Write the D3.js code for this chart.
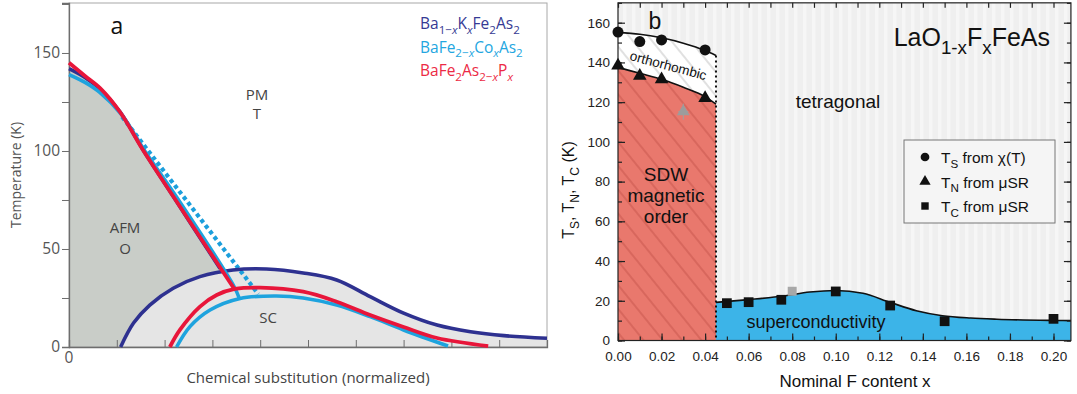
<!DOCTYPE html>
<html>
<head>
<meta charset="utf-8">
<script src="https://cdn.jsdelivr.net/npm/d3@7"></script>
<style>
  html, body { margin: 0; padding: 0; background: #fff; }
  svg { display: block; }
</style>
</head>
<body>
<svg id="fig" width="1077" height="394"></svg>
<script>
// ---------- Panel a: generic 122 phase diagram (normalized substitution) ----------
const aTicksX = [0, 0.1, 0.2, 0.3, 0.4, 0.5, 0.6, 0.7, 0.8, 0.9, 1.0];
const aTicksY = [0, 25, 50, 75, 100, 125, 150, 175];
const aLabelsY = [0, 50, 100, 150];

// AFM / structural transition lines [x, T(K)]
const afmK  = [[0, 142], [0.0335, 137.5], [0.065, 131.6], [0.1067, 120], [0.1548, 100.6], [0.2176, 77], [0.316, 40]];
const afmCo = [[0, 139], [0.0335, 135], [0.065, 129.8], [0.11, 118.6], [0.16, 99.5], [0.225, 76.5], [0.345, 31], [0.356, 25]];
const afmP  = [[0, 145], [0.0335, 138.3], [0.065, 132.1], [0.1067, 119.9], [0.1548, 100.5], [0.2176, 77], [0.3473, 29.1]];
const afmCoDotted = [[0.111, 117.5], [0.396, 27]];

// superconducting domes [x, Tc(K)]
const domeK  = [[0.108, 0], [0.135, 12.2], [0.169, 21.4], [0.218, 30], [0.274, 35.9], [0.343, 39.3],
                [0.413, 39.8], [0.49, 37.8], [0.56, 34.2], [0.63, 25.7], [0.70, 17.3], [0.77, 11.2],
                [0.84, 7.8], [0.91, 5.8], [1.0, 4.5]];
const domeCo = [[0.225, 0], [0.253, 10.4], [0.295, 18.9], [0.358, 24.8], [0.434, 26], [0.49, 25],
                [0.56, 21.4], [0.63, 15.5], [0.70, 8.7], [0.793, 0.5]];
const domeP  = [[0.211, 0], [0.232, 8.7], [0.274, 20.6], [0.309, 26.5], [0.347, 29.6], [0.40, 30.3],
                [0.49, 28.2], [0.56, 23.1], [0.63, 16.3], [0.70, 10.2], [0.77, 4.6], [0.877, 0.5]];

const aLegend = [
  { color: "#363a94", parts: [["Ba"], ["1−", "sub"], ["x", "subi"], ["K"], ["x", "subi"], ["Fe"], ["2", "sub"], ["As"], ["2", "sub"]] },
  { color: "#23a6df", parts: [["BaFe"], ["2−", "sub"], ["x", "subi"], ["Co"], ["x", "subi"], ["As"], ["2", "sub"]] },
  { color: "#ec2a45", parts: [["BaFe"], ["2", "sub"], ["As"], ["2−", "sub"], ["x", "subi"], ["P"], ["x", "subi"]] }
];

// ---------- Panel b: LaO1-xFxFeAs ----------
const bTicksXMajor = [0, 0.02, 0.04, 0.06, 0.08, 0.10, 0.12, 0.14, 0.16, 0.18, 0.20];
const bTicksYMajor = [0, 20, 40, 60, 80, 100, 120, 140, 160];

const tsPoints = [[0, 155.3], [0.01, 150.5], [0.02, 151.3], [0.04, 146.3]];
const tnPoints = [[0, 138.4], [0.01, 133.2], [0.02, 131.5], [0.04, 122]];
const tcPoints = [[0.05, 18.8], [0.06, 19.3], [0.075, 20.5], [0.10, 24.7], [0.125, 17.6], [0.15, 9.7], [0.20, 10.9]];
const tnGray = [[0.03, 115.2]];
const tcGray = [[0.08, 24.8]];

const tsLine = [[0, 155], [0.01, 154.2], [0.02, 152.4], [0.03, 149.7], [0.04, 146], [0.045, 143.5]];
const tnLine = [[0, 137.5], [0.01, 134.5], [0.02, 131.5], [0.03, 127.5], [0.04, 122.8], [0.045, 119]];
const tcLine = [[0.045, 19.2], [0.06, 20.6], [0.076, 22.4], [0.088, 24.4], [0.10, 25.2], [0.1125, 23.8],
                [0.125, 19.2], [0.137, 15], [0.149, 12.5], [0.162, 11.3], [0.174, 10.7], [0.2, 10.1], [0.208, 10]];
const sdwEdge = 0.045;

const svg = d3.select("#fig");
const defs = svg.append("defs");

function richText(sel, parts, size) {
  parts.forEach(([t, kind], i) => {
    const prev = i > 0 ? parts[i - 1][1] : undefined;
    const isSub = kind === "sub" || kind === "subi";
    const prevSub = prev === "sub" || prev === "subi";
    const ts = sel.append("tspan").text(t);
    if (isSub && !prevSub) ts.attr("dy", size * 0.3);
    if (!isSub && prevSub) ts.attr("dy", -size * 0.3);
    if (isSub) ts.attr("font-size", size * 0.75);
    if (kind === "subi") ts.attr("font-style", "italic");
  });
}

// ======================= PANEL A =======================
const xA = d3.scaleLinear().domain([0, 1]).range([69, 547]);
const yA = d3.scaleLinear().domain([0, 175.5]).range([347, 3]);
const gA = svg.append("g");
const fontA = "'Open Sans', 'Noto Sans', sans-serif";

// AFM (orthorhombic) region under the transition line
gA.append("path")
  .datum(afmK)
  .attr("d", d3.area().x(d => xA(d[0])).y0(yA(0)).y1(d => yA(d[1])).curve(d3.curveCatmullRom))
  .attr("fill", "#c9cdc8");
// superconducting region under the K dome
gA.append("path")
  .datum(domeK)
  .attr("d", d3.area().x(d => xA(d[0])).y0(yA(0)).y1(d => yA(d[1])).curve(d3.curveCatmullRom))
  .attr("fill", "#e5e5e5");

// frame
gA.append("rect").attr("x", xA(0)).attr("y", yA(175.5)).attr("width", xA(1) - xA(0)).attr("height", yA(0) - yA(175.5))
  .attr("fill", "none").attr("stroke", "#a8a8a8").attr("stroke-width", 1);

// axes
const axALeft = gA.append("g").attr("transform", `translate(${xA(0)},0)`)
  .call(d3.axisLeft(yA).tickValues(aTicksY).tickSize(7).tickFormat(d => aLabelsY.includes(d) ? d : ""));
const axABottom = gA.append("g").attr("transform", `translate(0,${yA(0)})`)
  .call(d3.axisBottom(xA).tickValues(aTicksX).tickSize(-7).tickFormat(""));
[axALeft, axABottom].forEach(ax => {
  ax.select(".domain").attr("stroke", "#6e6e6e").attr("stroke-width", 1.3);
  ax.selectAll(".tick line").attr("stroke", "#6e6e6e").attr("stroke-width", 1);
  ax.selectAll("text").attr("font-family", fontA).attr("font-size", 15.5).attr("fill", "#555");
});
axALeft.selectAll("text").attr("x", -9);
gA.append("text").attr("x", xA(0)).attr("y", 363).attr("text-anchor", "middle")
  .attr("font-family", fontA).attr("font-size", 15.5).attr("fill", "#555").text("0");

// lines
const lineA = d3.line().x(d => xA(d[0])).y(d => yA(d[1])).curve(d3.curveCatmullRom);
const lineALin = d3.line().x(d => xA(d[0])).y(d => yA(d[1])).curve(d3.curveLinear);
gA.append("path").datum(afmCoDotted).attr("d", lineALin).attr("fill", "none")
  .attr("stroke", "#1c9fdc").attr("stroke-width", 4.2).attr("stroke-dasharray", "4 3.2");
gA.append("path").datum(domeK).attr("d", lineA).attr("fill", "none").attr("stroke", "#2e3190").attr("stroke-width", 3.6);
gA.append("path").datum(afmK).attr("d", lineA).attr("fill", "none").attr("stroke", "#2e3190").attr("stroke-width", 3.6);
gA.append("path").datum(domeCo).attr("d", lineA).attr("fill", "none").attr("stroke", "#1ea3de").attr("stroke-width", 3.6);
gA.append("path").datum(afmCo).attr("d", lineA).attr("fill", "none").attr("stroke", "#1ea3de").attr("stroke-width", 3.6);
gA.append("path").datum(domeP).attr("d", lineA).attr("fill", "none").attr("stroke", "#e8163a").attr("stroke-width", 3.8);
gA.append("path").datum(afmP).attr("d", lineA).attr("fill", "none").attr("stroke", "#e8163a").attr("stroke-width", 3.8);

// region labels
const aLab = (x, y, t, size, fill) => gA.append("text").attr("x", x).attr("y", y).attr("text-anchor", "middle")
  .attr("font-family", fontA).attr("font-size", size).attr("fill", fill).text(t);
aLab(117, 34, "a", 23, "#111");
aLab(257, 100, "PM", 15, "#444");
aLab(257, 119, "T", 15, "#444");
aLab(125, 233, "AFM", 15, "#444");
aLab(125, 254, "O", 15, "#444");
aLab(268, 323, "SC", 15, "#444");

// legend
aLegend.forEach((e, i) => {
  const t = gA.append("text").attr("x", 420).attr("y", 29 + i * 23.5)
    .attr("font-family", fontA).attr("font-size", 15.5).attr("fill", e.color);
  richText(t, e.parts, 15.5);
});

// axis titles
gA.append("text").attr("transform", "translate(21,175) rotate(-90)").attr("text-anchor", "middle")
  .attr("font-family", fontA).attr("font-size", 14).attr("fill", "#555").text("Temperature (K)");
gA.append("text").attr("x", 308).attr("y", 383).attr("text-anchor", "middle")
  .attr("font-family", fontA).attr("font-size", 15).attr("fill", "#444").text("Chemical substitution (normalized)");

// ======================= PANEL B =======================
const xB = d3.scaleLinear().domain([0, 0.208]).range([618, 618 + 0.208 * 2177.5]);
const yB = d3.scaleLinear().domain([0, 170]).range([340.5, 340.5 - 170 * 1.98625]);
const gB = svg.append("g");
const fontB = "'Liberation Sans', Arial, sans-serif";
const x0 = xB(0), x1 = xB(0.208), yTop = yB(170), yBot = yB(0);

// tetragonal background with faint vertical streaks
const stripes = defs.append("pattern").attr("id", "stripes").attr("patternUnits", "userSpaceOnUse")
  .attr("width", 9).attr("height", 10);
stripes.append("rect").attr("width", 9).attr("height", 10).attr("fill", "#efefef");
stripes.append("rect").attr("x", 2).attr("width", 3.5).attr("height", 10).attr("fill", "#f6f6f6");
gB.append("rect").attr("x", x0).attr("y", yTop).attr("width", x1 - x0).attr("height", yBot - yTop).attr("fill", "url(#stripes)");

// hatch patterns
function hatch(id, bg, line, op) {
  const p = defs.append("pattern").attr("id", id).attr("patternUnits", "userSpaceOnUse")
    .attr("width", 15).attr("height", 15).attr("patternTransform", "rotate(-39)");
  p.append("rect").attr("width", 15).attr("height", 15).attr("fill", bg);
  p.append("line").attr("x1", 1).attr("x2", 1).attr("y1", 0).attr("y2", 15)
    .attr("stroke", line).attr("stroke-width", 1).attr("stroke-opacity", op);
}
hatch("hatchRed", "#e9786d", "#b8483f", 0.7);
hatch("hatchWhite", "#ffffff", "#9a9a9a", 0.6);

const areaB = d3.area().x(d => xB(d[0])).y0(yBot).y1(d => yB(d[1])).curve(d3.curveMonotoneX);
// orthorhombic band (drawn under Ts, then covered below TN)
gB.append("path").datum(tsLine).attr("d", areaB).attr("fill", "url(#hatchWhite)");
gB.append("path").datum(tnLine).attr("d", areaB).attr("fill", "url(#hatchRed)");
// superconducting region
gB.append("path").datum(tcLine).attr("d", areaB).attr("fill", "#3cb4e8");

// boundary lines
const lineB = d3.line().x(d => xB(d[0])).y(d => yB(d[1])).curve(d3.curveMonotoneX);
[tsLine, tnLine, tcLine].forEach(l =>
  gB.append("path").datum(l).attr("d", lineB).attr("fill", "none").attr("stroke", "#111").attr("stroke-width", 1.6));
gB.append("line").attr("x1", xB(sdwEdge)).attr("x2", xB(sdwEdge))
  .attr("y1", yB(tsLine[tsLine.length - 1][1])).attr("y2", yBot)
  .attr("stroke", "#111").attr("stroke-width", 2).attr("stroke-dasharray", "2 3");

// frame
gB.append("rect").attr("x", x0).attr("y", yTop).attr("width", x1 - x0).attr("height", yBot - yTop)
  .attr("fill", "none").attr("stroke", "#222").attr("stroke-width", 1.2);

// axes with inward ticks on all four sides
const minorX = d3.range(0, 0.2081, 0.01);
const minorY = d3.range(0, 170.1, 10);
function styleAx(ax) {
  ax.select(".domain").remove();
  ax.selectAll(".tick line").attr("stroke", "#222").attr("stroke-width", 1.2);
  ax.selectAll("text").attr("font-family", fontB).attr("font-size", 13.5).attr("fill", "#222");
}
styleAx(gB.append("g").attr("transform", `translate(0,${yBot})`)
  .call(d3.axisBottom(xB).tickValues(minorX).tickSize(-4).tickFormat("")));
styleAx(gB.append("g").attr("transform", `translate(0,${yBot})`)
  .call(d3.axisBottom(xB).tickValues(bTicksXMajor).tickSize(-7).tickPadding(11).tickFormat(d3.format(".2f"))));
styleAx(gB.append("g").attr("transform", `translate(0,${yTop})`)
  .call(d3.axisTop(xB).tickValues(minorX).tickSize(-5).tickFormat("")));
styleAx(gB.append("g").attr("transform", `translate(${x0},0)`)
  .call(d3.axisLeft(yB).tickValues(minorY).tickSize(-4).tickFormat("")));
styleAx(gB.append("g").attr("transform", `translate(${x0},0)`)
  .call(d3.axisLeft(yB).tickValues(bTicksYMajor).tickSize(-7).tickPadding(8).tickFormat(d3.format("d"))));
styleAx(gB.append("g").attr("transform", `translate(${x1},0)`)
  .call(d3.axisRight(yB).tickValues(minorY).tickSize(-4).tickFormat("")));
styleAx(gB.append("g").attr("transform", `translate(${x1},0)`)
  .call(d3.axisRight(yB).tickValues(bTicksYMajor).tickSize(-7).tickFormat("")));

// markers
const sym = (type, size) => d3.symbol().type(type).size(size)();
gB.selectAll(".ts").data(tsPoints).join("path")
  .attr("transform", d => `translate(${xB(d[0])},${yB(d[1])})`).attr("d", sym(d3.symbolCircle, 95)).attr("fill", "#111");
gB.selectAll(".tn").data(tnPoints).join("path")
  .attr("transform", d => `translate(${xB(d[0])},${yB(d[1])})`).attr("d", sym(d3.symbolTriangle, 80)).attr("fill", "#111");
gB.selectAll(".tc").data(tcPoints).join("path")
  .attr("transform", d => `translate(${xB(d[0])},${yB(d[1])})`).attr("d", sym(d3.symbolSquare, 95)).attr("fill", "#111");
// gray reference points with error bars
tnGray.forEach(d => {
  const cx = xB(d[0]), cy = yB(d[1]);
  gB.append("line").attr("x1", cx).attr("x2", cx).attr("y1", cy - 8).attr("y2", cy + 8).attr("stroke", "#a0a0a0").attr("stroke-width", 1);
  gB.append("line").attr("x1", cx - 5).attr("x2", cx + 5).attr("y1", cy).attr("y2", cy).attr("stroke", "#a0a0a0").attr("stroke-width", 1);
  gB.append("path").attr("transform", `translate(${cx},${cy})`).attr("d", sym(d3.symbolTriangle, 70)).attr("fill", "#9c9c9c");
});
tcGray.forEach(d => {
  gB.append("path").attr("transform", `translate(${xB(d[0])},${yB(d[1])})`).attr("d", sym(d3.symbolSquare, 80)).attr("fill", "#a8a8a8");
});

// labels
const bLab = (x, y, t, size, anchor = "middle") => gB.append("text").attr("x", x).attr("y", y).attr("text-anchor", anchor)
  .attr("font-family", fontB).attr("font-size", size).attr("fill", "#111").text(t);
bLab(655, 29, "b", 23);
bLab(838, 108, "tetragonal", 19);
bLab(666, 181, "SDW", 19);
bLab(666, 202, "magnetic", 19);
bLab(666, 223, "order", 19);
bLab(816, 328, "superconductivity", 18);
gB.append("text").attr("transform", "translate(667,70) rotate(15)").attr("text-anchor", "middle")
  .attr("font-family", fontB).attr("font-size", 13.5).attr("fill", "#111").text("orthorhombic");

const title = gB.append("text").attr("x", 1050).attr("y", 46).attr("text-anchor", "end")
  .attr("font-family", fontB).attr("font-size", 25).attr("fill", "#111");
richText(title, [["LaO"], ["1-x", "sub"], ["F"], ["x", "sub"], ["FeAs"]], 25);

// legend
gB.append("rect").attr("x", 904).attr("y", 140).attr("width", 151).attr("height", 83)
  .attr("fill", "#f5f5f5").attr("stroke", "#777").attr("stroke-width", 1);
const legB = [
  { type: d3.symbolCircle, size: 60, parts: [["T"], ["S", "sub"], [" from χ(T)"]] },
  { type: d3.symbolTriangle, size: 55, parts: [["T"], ["N", "sub"], [" from μSR"]] },
  { type: d3.symbolSquare, size: 55, parts: [["T"], ["C", "sub"], [" from μSR"]] }
];
legB.forEach((e, i) => {
  const y = 157 + i * 24.5;
  gB.append("path").attr("transform", `translate(925,${y})`).attr("d", sym(e.type, e.size)).attr("fill", "#111");
  const t = gB.append("text").attr("x", 941).attr("y", y + 6).attr("font-family", fontB).attr("font-size", 15.5).attr("fill", "#111");
  richText(t, e.parts, 15.5);
});

// axis titles
const yt = gB.append("text").attr("transform", "translate(574,190) rotate(-90)").attr("text-anchor", "middle")
  .attr("font-family", fontB).attr("font-size", 16).attr("fill", "#111");
richText(yt, [["T"], ["S", "sub"], [", T"], ["N", "sub"], [", T"], ["C", "sub"], [" (K)"]], 16);
bLab(855, 387, "Nominal F content x", 17);
</script>
</body>
</html>
